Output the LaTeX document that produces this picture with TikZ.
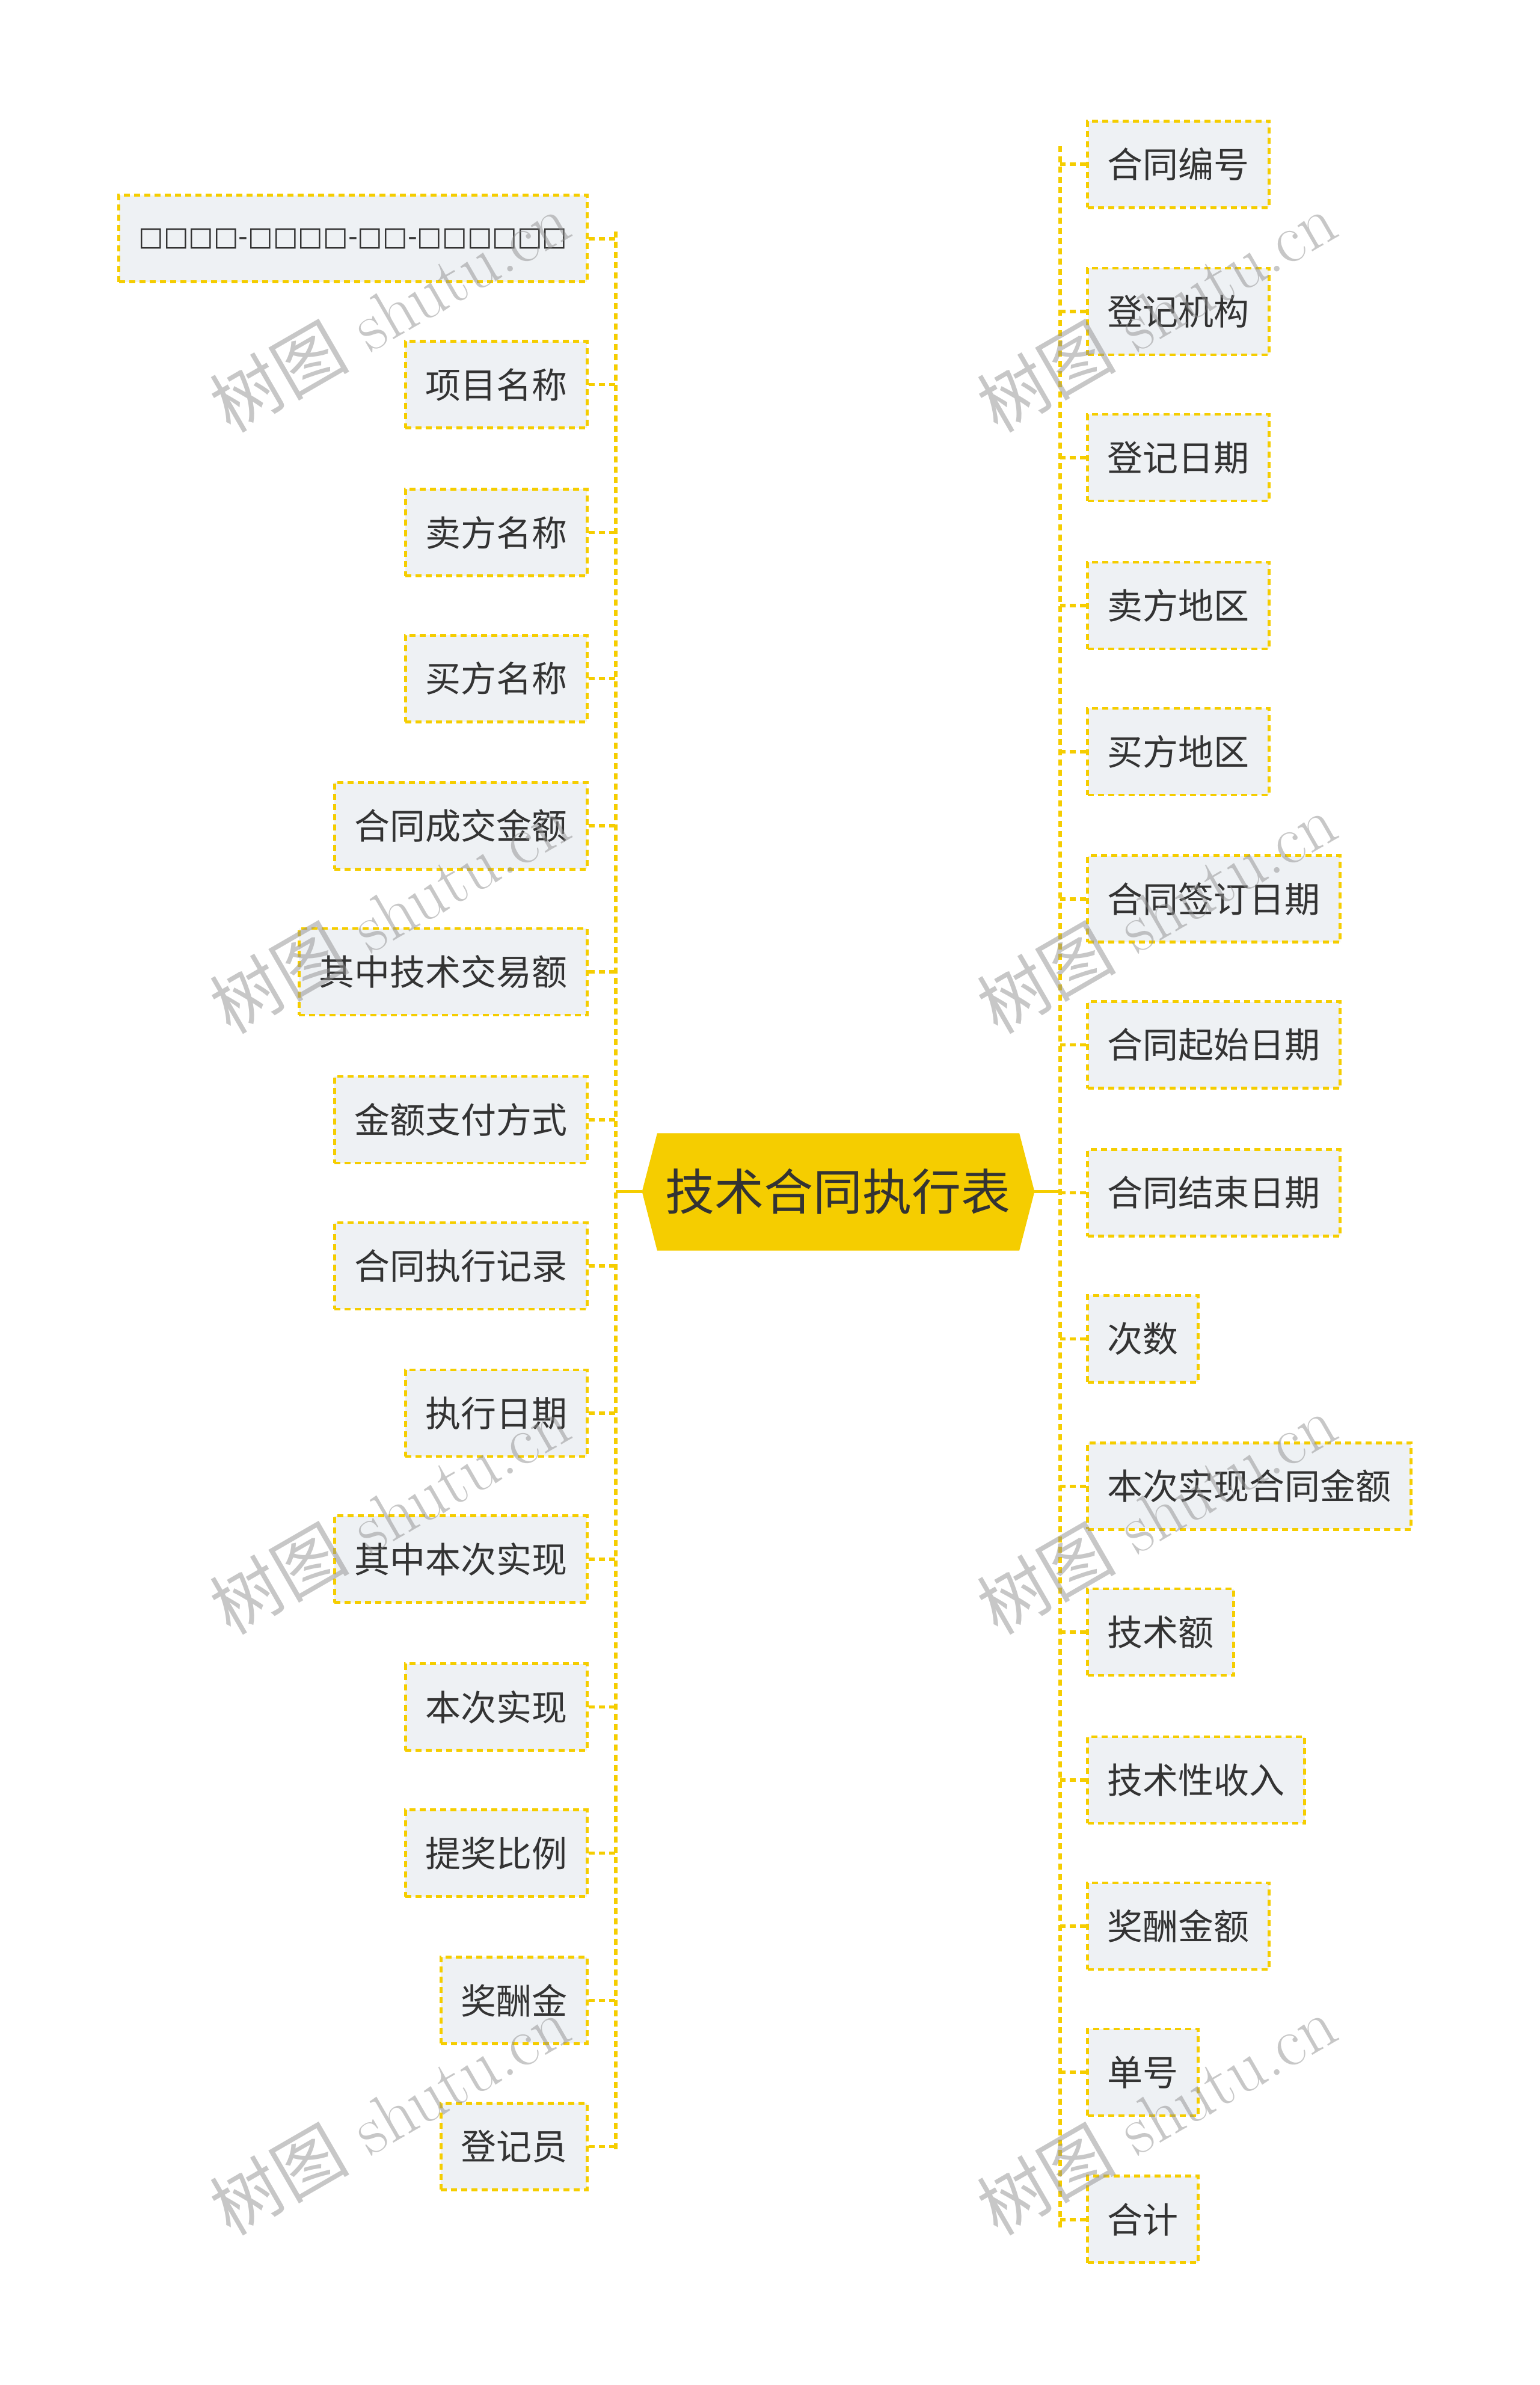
\documentclass[tikz,border=0pt]{standalone}
\usepackage{fontspec}
\newfontfamily\cjk{Noto Sans CJK SC}
\newfontfamily\dv{DejaVu Sans}
\definecolor{yel}{HTML}{F5CD00}
\definecolor{boxg}{HTML}{EEF1F4}
\definecolor{txt}{HTML}{333333}
\definecolor{wm}{HTML}{8F8F8F}
\begin{document}
\begin{tikzpicture}[x=0.506pt,y=-0.506pt,
  leaf/.style={draw=yel,fill=boxg,dash pattern=on 5pt off 3.5pt,line width=2.3pt,minimum height=72pt,inner xsep=16.5pt,inner ysep=0pt,text=txt,font=\cjk\fontsize{29.5pt}{32pt}\selectfont},
  lnk/.style={draw=yel,line width=2.8pt,dash pattern=on 5pt off 3.5pt},
  wmk/.style={text=wm,opacity=0.5,rotate=30,font=\fontsize{58pt}{62pt}\selectfont}]
\useasboundingbox (0,0) rectangle (2530,3919);
% central
\fill[yel] (1055,1958) -- (1080,1862) -- (1675,1862) -- (1700,1958) -- (1675,2055) -- (1080,2055) -- cycle;
\node[text=txt,font=\cjk\fontsize{41pt}{44pt}\selectfont] (ct) at (1377,1958) {技术合同执行表};
\coordinate (cl) at (1055,1958);
\coordinate (cr) at (1700,1958);
% right
\foreach \i/\y/\t in {r1/270/合同编号,r2/512/登记机构,r3/752/登记日期,r4/995/卖方地区,r5/1235/买方地区,r6/1477/合同签订日期,r7/1717/合同起始日期,r8/1960/合同结束日期,r9/2200/次数,r10/2442/本次实现合同金额,r11/2682/技术额,r12/2925/技术性收入,r13/3165/奖酬金额,r14/3405/单号,r15/3647/合计}{
  \node[leaf,anchor=west] (\i) at (1785,\y) {\t};
  \draw[lnk] (\i.west) -- ++(-43,0);
}
\draw[yel,line width=2.8pt] (cr) -- (1742,1958);
\draw[lnk] (1742,240) -- (1742,3665);
% left
\node[leaf,anchor=east,minimum width=388pt,font=\dv\fontsize{22pt}{24pt}\selectfont] (l1) at (967,392) {□□□□-□□□□-□□-□□□□□□};
\draw[lnk] (l1.east) -- ++(45,0);
\foreach \i/\y/\t in {l2/632/项目名称,l3/875/卖方名称,l4/1115/买方名称,l5/1357/合同成交金额,l6/1597/其中技术交易额,l7/1840/金额支付方式,l8/2080/合同执行记录,l9/2322/执行日期,l10/2562/其中本次实现,l11/2805/本次实现,l12/3045/提奖比例,l13/3287/奖酬金,l14/3527/登记员}{
  \node[leaf,anchor=east] (\i) at (967,\y) {\t};
  \draw[lnk] (\i.east) -- ++(45,0);
}
\draw[yel,line width=2.8pt] (cl) -- (1012,1958);
\draw[lnk] (1012,380) -- (1012,3535);
% watermarks
\foreach \x/\y in {640/512,640/1500,640/2487,640/3475,1900/512,1900/1500,1900/2487,1900/3475}{
  \node[wmk] (w\x\y) at (\x,\y) {{\cjk 树图} shutu.cn};
}
\end{tikzpicture}
\end{document}
